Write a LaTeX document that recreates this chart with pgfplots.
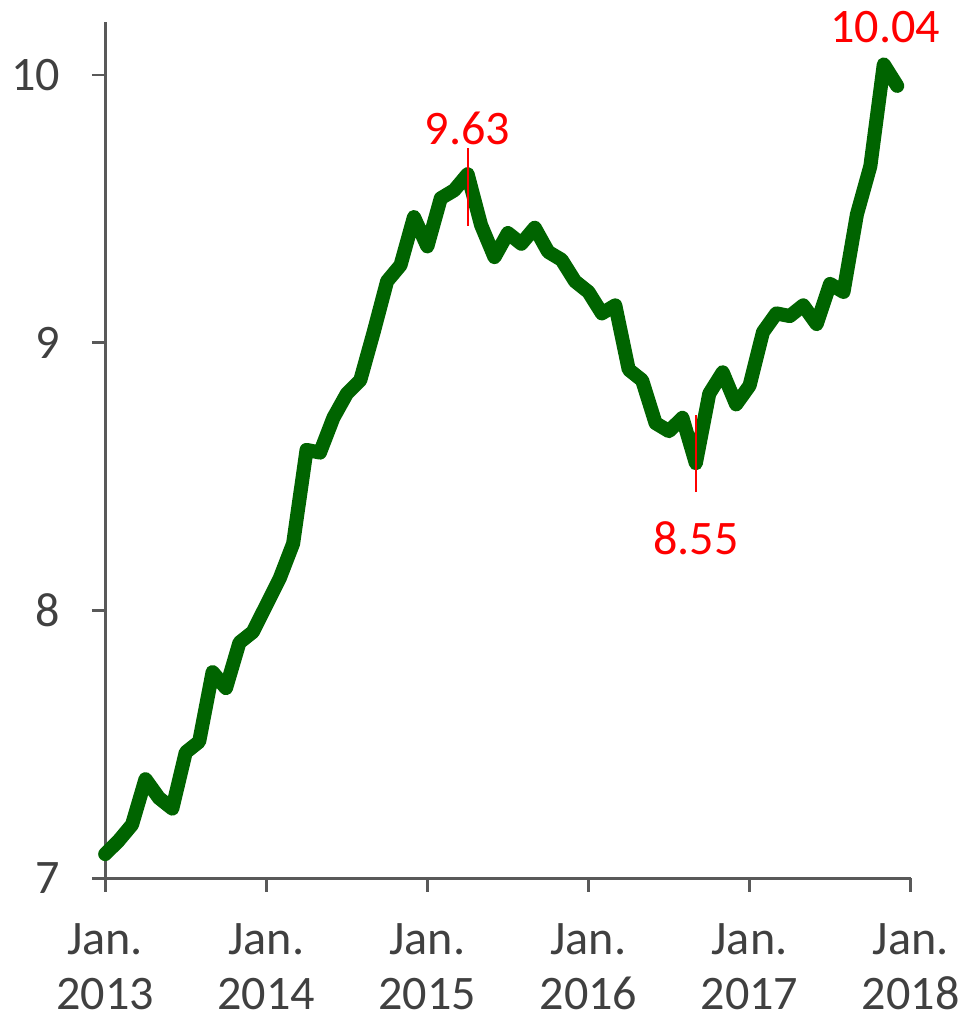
\documentclass[border=0pt]{standalone}
\usepackage{fontspec}
\setmainfont{Carlito}
\usepackage{pgfplots}
\pgfplotsset{compat=1.18}
\definecolor{linegreen}{RGB}{0,100,0}
\definecolor{axisgray}{RGB}{89,89,89}
\definecolor{textgray}{RGB}{64,64,64}

\begin{document}
\begin{tikzpicture}
\begin{axis}[
    width=240.9pt, height=256.2pt,
    scale only axis,
    xmin=0, xmax=60,
    ymin=7, ymax=10.2,
    axis lines*=left,
    axis line style={axisgray, line width=0.8pt},
    tick style={axisgray, line width=0.8pt},
    tick align=outside,
    major tick length=4pt,
    xtick={0,12,24,36,48,60},
    xticklabels={Jan.\\2013,Jan.\\2014,Jan.\\2015,Jan.\\2016,Jan.\\2017,Jan.\\2018},
    xticklabel style={align=center, text=textgray, font=\fontsize{14.4}{16.5}\selectfont, yshift=-6pt},
    ytick={7,8,9,10},
    yticklabel style={text=textgray, font=\fontsize{14.4}{16.5}\selectfont, xshift=-6pt},
    /pgf/number format/assume math mode=true,
    clip=false,
]
% monthly values, Jan 2013 = 0
\addplot[linegreen, line width=4.2pt, line join=round, line cap=round] coordinates {
(0,7.09) (1,7.14) (2,7.20) (3,7.37) (4,7.30) (5,7.26) (6,7.47) (7,7.51)
(8,7.77) (9,7.71) (10,7.88) (11,7.92) (12,8.02) (13,8.12) (14,8.25) (15,8.60)
(16,8.59) (17,8.72) (18,8.81) (19,8.86) (20,9.04) (21,9.23) (22,9.29) (23,9.47)
(24,9.36) (25,9.54) (26,9.57) (27,9.63) (28,9.44) (29,9.32) (30,9.41) (31,9.37)
(32,9.43) (33,9.34) (34,9.31) (35,9.23) (36,9.19) (37,9.11) (38,9.14) (39,8.90)
(40,8.86) (41,8.70) (42,8.67) (43,8.72) (44,8.55) (45,8.81) (46,8.89) (47,8.77)
(48,8.84) (49,9.04) (50,9.11) (51,9.10) (52,9.14) (53,9.07) (54,9.22) (55,9.19)
(56,9.48) (57,9.66) (58,10.04) (59,9.96)
};
% annotations
\addplot[red, line width=0.6pt] coordinates {(27,9.437) (27,9.726)};
\addplot[red, line width=0.6pt] coordinates {(44,8.442) (44,8.731)};
\node[red, font=\fontsize{14.4}{16.5}\selectfont] at (axis cs:27,9.80) {9.63};
\node[red, font=\fontsize{14.4}{16.5}\selectfont] at (axis cs:44,8.27) {8.55};
\node[red, font=\fontsize{14.4}{16.5}\selectfont] at (axis cs:58.1,10.18) {10.04};
\end{axis}
\end{tikzpicture}
\end{document}
